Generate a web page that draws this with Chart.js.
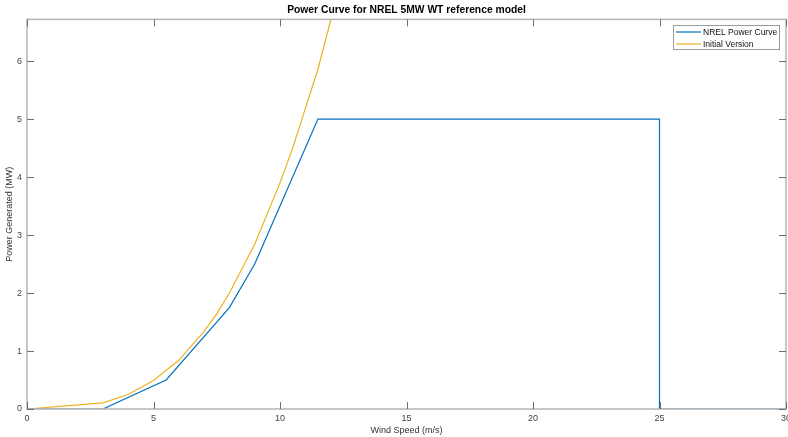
<!DOCTYPE html>
<html>
<head>
<meta charset="utf-8">
<style>
  html, body { margin: 0; padding: 0; background: #fff; }
  #wrap { width: 788px; height: 437px; }
</style>
</head>
<body>
<div id="wrap"><canvas id="powerChart" width="788" height="437"></canvas></div>
<script src="https://cdn.jsdelivr.net/npm/chart.js"></script>
<script>
// NREL 5MW reference power curve
var nrelSpeed = [0, 3, 5.5, 8, 9, 11.5, 25, 25, 30];
var nrelPower = [0, 0, 0.5, 1.75, 2.5, 5, 5, 0, 0];

// initial version (cubic-like curve, goes off the top)
var initSpeed = [0, 3, 4, 5, 6, 7, 7.5, 8, 9, 10, 10.5, 11, 11.5, 12, 12.5];
var initPower = [0, 0.105, 0.25, 0.49, 0.84, 1.34, 1.64, 2.0, 2.84, 3.9, 4.5, 5.18, 5.86, 6.7, 7.6];

var xTicks = [0, 5, 10, 15, 20, 25, 30];
var yTicks = [0, 1, 2, 3, 4, 5, 6];

var BLUE = '#0072BD';
var YELLOW = '#EDB120';
var FONT = 'Liberation Sans, Arial, sans-serif';

function pts(xs, ys) {
  return xs.map(function (x, i) { return { x: x, y: ys[i] }; });
}

// box, inward ticks and the boxed legend, MATLAB style
var matlabAxes = {
  id: 'matlabAxes',
  afterDatasetsDraw: function (chart) {
    var ctx = chart.ctx;
    var a = chart.chartArea;
    var xs = chart.scales.x, ys = chart.scales.y;
    ctx.save();
    ctx.strokeStyle = '#b5b5b5';
    ctx.lineWidth = 1.5;
    ctx.strokeRect(a.left, a.top, a.right - a.left, a.bottom - a.top);

    ctx.strokeStyle = '#707070';
    ctx.lineWidth = 1;
    var tl = 7;
    ctx.beginPath();
    xTicks.forEach(function (v) {
      var px = Math.round(xs.getPixelForValue(v)) + 0.5;
      ctx.moveTo(px, a.bottom); ctx.lineTo(px, a.bottom - tl);
      ctx.moveTo(px, a.top); ctx.lineTo(px, a.top + tl);
    });
    yTicks.forEach(function (v) {
      var py = Math.round(ys.getPixelForValue(v)) + 0.5;
      ctx.moveTo(a.left, py); ctx.lineTo(a.left + tl, py);
      ctx.moveTo(a.right, py); ctx.lineTo(a.right - tl, py);
    });
    ctx.stroke();

    // legend
    var lx = 673.5, ly = 25.5, lw = 106, lh = 24;
    ctx.fillStyle = '#fff';
    ctx.fillRect(lx, ly, lw, lh);
    ctx.strokeStyle = '#9a9a9a';
    ctx.lineWidth = 1;
    ctx.strokeRect(lx, ly, lw, lh);
    ctx.font = '8.5px ' + FONT;
    ctx.textBaseline = 'middle';
    ctx.textAlign = 'left';
    chart.data.datasets.forEach(function (ds, i) {
      var y = 32 + i * 12;
      ctx.strokeStyle = ds.borderColor;
      ctx.lineWidth = 1.2;
      ctx.beginPath();
      ctx.moveTo(676, y); ctx.lineTo(701, y);
      ctx.stroke();
      ctx.fillStyle = '#111';
      ctx.fillText(ds.label, 703, y + 0.5);
    });
    ctx.restore();
  }
};

new Chart(document.getElementById('powerChart').getContext('2d'), {
  type: 'scatter',
  data: {
    datasets: [
      {
        label: 'NREL Power Curve',
        data: pts(nrelSpeed, nrelPower),
        showLine: true,
        borderColor: BLUE,
        borderWidth: 1.2,
        pointRadius: 0,
        fill: false,
        tension: 0
      },
      {
        label: 'Initial Version',
        data: pts(initSpeed, initPower),
        showLine: true,
        borderColor: YELLOW,
        borderWidth: 1.2,
        pointRadius: 0,
        fill: false,
        tension: 0
      }
    ]
  },
  options: {
    responsive: false,
    animation: false,
    layout: { padding: { left: 0, right: 2, top: 0, bottom: 0 } },
    plugins: {
      legend: { display: false },
      tooltip: { enabled: false },
      title: {
        display: true,
        fullSize: false,
        text: 'Power Curve for NREL 5MW WT reference model',
        color: '#000',
        font: { family: FONT, size: 10.3, weight: 'bold' },
        padding: { top: 4, bottom: 3 }
      }
    },
    scales: {
      x: {
        type: 'linear',
        min: 0,
        max: 30,
        afterBuildTicks: function (s) { s.ticks = xTicks.map(function (v) { return { value: v }; }); },
        afterFit: function (s) { s.height = 28; s.paddingLeft = 0; s.paddingRight = 0; },
        grid: { display: false, drawTicks: false, tickLength: 0 },
        border: { display: false },
        ticks: { color: '#444', padding: 4, font: { family: FONT, size: 9 } },
        title: {
          display: true,
          text: 'Wind Speed (m/s)',
          color: '#333',
          font: { family: FONT, size: 9 },
          padding: { top: 0, bottom: 1 }
        }
      },
      y: {
        type: 'linear',
        min: 0,
        max: 6.72,
        afterBuildTicks: function (s) { s.ticks = yTicks.map(function (v) { return { value: v }; }); },
        afterFit: function (s) { s.width = 27; s.paddingTop = 0; s.paddingBottom = 0; },
        grid: { display: false, drawTicks: false, tickLength: 0 },
        border: { display: false },
        ticks: { color: '#444', padding: 5, font: { family: FONT, size: 9 } },
        title: {
          display: true,
          text: 'Power Generated (MW)',
          color: '#333',
          font: { family: FONT, size: 9 },
          padding: { top: 4, bottom: 0 }
        }
      }
    }
  },
  plugins: [matlabAxes]
});
</script>
</body>
</html>
